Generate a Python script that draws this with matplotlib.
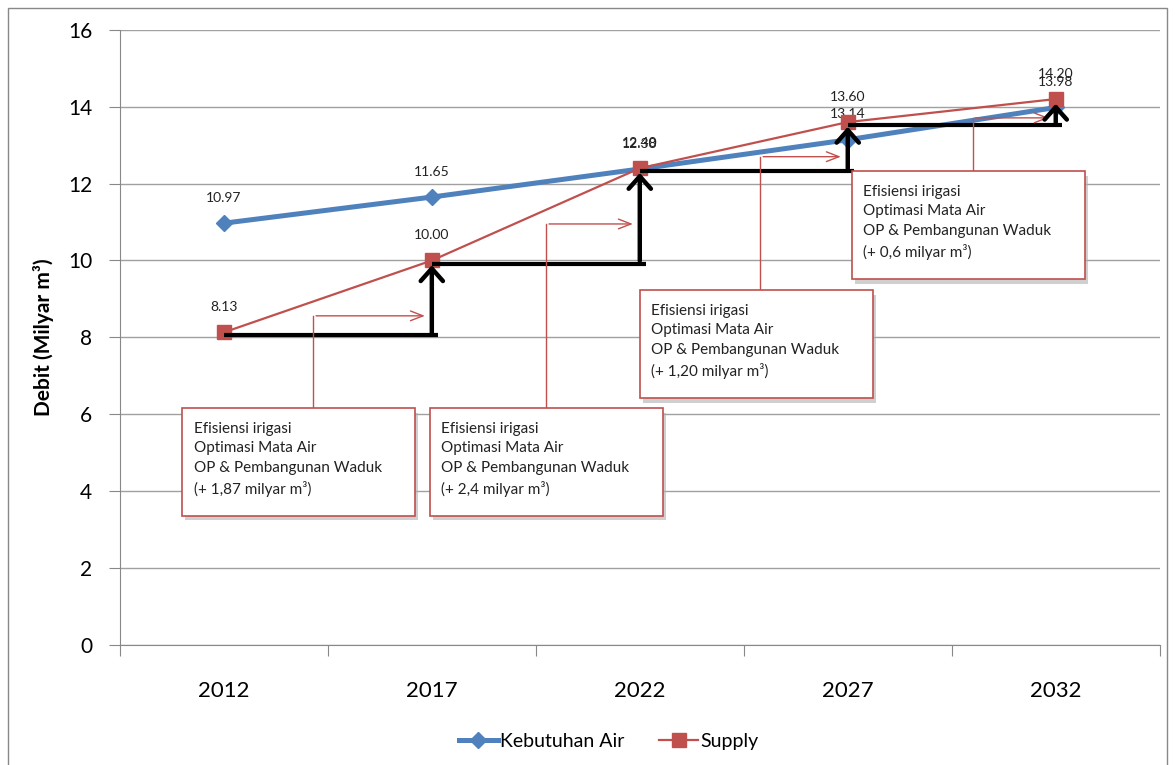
import matplotlib.pyplot as plt
from matplotlib.patches import Rectangle

plt.rcParams['font.family'] = ['Lato', 'DejaVu Sans']

# data
tahun = ['2012', '2017', '2022', '2027', '2032']
kebutuhan = [10.97, 11.65, 12.38, 13.14, 13.98]
supply = [8.13, 10.00, 12.40, 13.60, 14.20]
tambahan = ['1,87', '2,4', '1,20', '0,6']

biru = '#4F81BD'
merah = '#C0504D'

fig = plt.figure(figsize=(11.75, 7.65), dpi=100)
ax = fig.add_axes([0.102, 0.157, 0.885, 0.804])
x = list(range(len(tahun)))

ax.plot(x, kebutuhan, color=biru, lw=3.6, marker='D', ms=8, label='Kebutuhan Air', zorder=3)
ax.plot(x, supply, color=merah, lw=1.6, marker='s', ms=10, label='Supply', zorder=4)

for i in x:
    ax.annotate(f'{kebutuhan[i]:.2f}', (i, kebutuhan[i]), xytext=(0, 14), textcoords='offset points',
                ha='center', va='bottom', fontsize=10, color='#222222')
    ax.annotate(f'{supply[i]:.2f}', (i, supply[i]), xytext=(0, 14), textcoords='offset points',
                ha='center', va='bottom', fontsize=10, color='#222222')

# tangga hitam
for i in range(len(x) - 1):
    lvl = supply[i] - 0.08
    ax.plot([i, i + 1 + 0.03], [lvl, lvl], color='black', lw=3, zorder=5, solid_capstyle='butt')
    ax.annotate('', xy=(i + 1, supply[i + 1] - 0.05), xytext=(i + 1, lvl),
                arrowprops=dict(arrowstyle='->,head_length=0.45,head_width=0.4', color='black', lw=3.2,
                                mutation_scale=20),
                zorder=6)

# kotak keterangan
kotak = [(-0.20, 3.36), (0.99, 3.36), (2.00, 6.42), (3.02, 9.52)]
sambung = [(0.43, 8.56), (1.55, 10.95), (2.58, 12.70), (3.60, 13.71)]
for i, ((bx, by), (cx, cy)) in enumerate(zip(kotak, sambung)):
    w, h = 1.12, 2.80
    ax.add_patch(Rectangle((bx + 0.015, by - 0.12), w, h, facecolor='#b0b0b0', edgecolor='none',
                           alpha=0.6, zorder=6))
    ax.add_patch(Rectangle((bx, by), w, h, facecolor='white', edgecolor=merah, lw=1.2, zorder=7))
    teks = ('Efisiensi irigasi\nOptimasi Mata Air\nOP & Pembangunan Waduk\n'
            f'(+ {tambahan[i]} milyar m³)')
    ax.text(bx + 0.055, by + h - 0.35, teks, ha='left', va='top', fontsize=11,
            color='#222222', linespacing=1.5, zorder=8)
    ax.plot([cx, cx], [by + h, cy], color=merah, lw=1, zorder=5)
    ax.annotate('', xy=(i + 0.98, cy), xytext=(cx, cy),
                arrowprops=dict(arrowstyle='->,head_length=0.9,head_width=0.35', color=merah, lw=1),
                zorder=5)

ax.set_xlim(-0.5, 4.5)
ax.set_ylim(0, 16)
ax.set_yticks(range(0, 17, 2))
ax.set_xticks([-0.5, 0.5, 1.5, 2.5, 3.5, 4.5])
ax.set_xticklabels([])
ax.set_xticks(x, minor=True)
ax.set_xticklabels(tahun, minor=True, fontsize=16)
ax.tick_params(axis='x', which='minor', length=0, pad=26)
ax.tick_params(axis='x', which='major', length=8, color='#888888', direction='out')
ax.tick_params(axis='y', length=8, color='#888888', labelsize=15, pad=12)
ax.grid(axis='y', color='#a0a0a0', lw=1)
ax.set_axisbelow(True)
for s in ['top', 'right']:
    ax.spines[s].set_visible(False)
for s in ['left', 'bottom']:
    ax.spines[s].set_color('#888888')
ax.set_ylabel('Debit (Milyar m³)', fontsize=15, fontweight='bold', labelpad=10)

ax.legend(loc='upper center', bbox_to_anchor=(0.47, -0.115), ncol=2, frameon=False, fontsize=14,
          handlelength=2.0, handletextpad=0.1, columnspacing=1.8)

fig.add_artist(Rectangle((0.007, -0.01), 0.986, 1.0, transform=fig.transFigure, fill=False,
                         edgecolor='#888888', lw=1))

fig.savefig('out.png', dpi=100)
